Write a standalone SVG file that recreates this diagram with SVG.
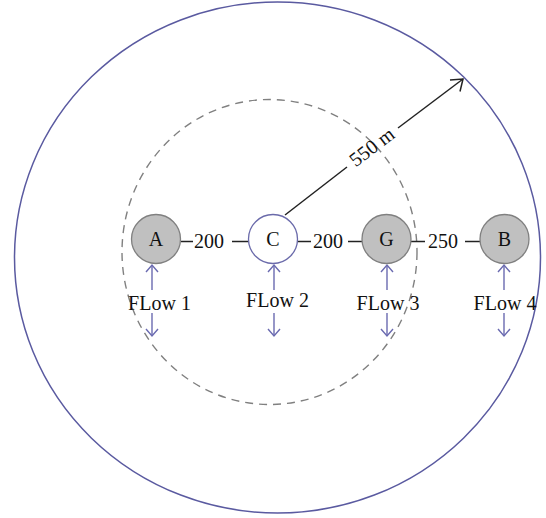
<svg xmlns="http://www.w3.org/2000/svg" width="546" height="518" viewBox="0 0 546 518">
<defs>
<style>
text{font-family:"Liberation Serif","Times New Roman",serif;font-size:20px;fill:#111}
.lab{text-anchor:middle}
.node{fill:#c0c0c0;stroke:#808080;stroke-width:1.3}
.nodec{fill:#fff;stroke:#6a6aaa;stroke-width:1.3}
.edge{stroke:#222;stroke-width:1.5;fill:none}
.flow{stroke:#6a6ab0;stroke-width:1.4;fill:none}
</style>
</defs>
<rect width="546" height="518" fill="#fff"/>
<ellipse cx="277.5" cy="257.5" rx="263" ry="255.5" fill="none" stroke="#5a5aa0" stroke-width="1.5"/>
<ellipse cx="269.5" cy="252" rx="147.5" ry="152.5" fill="none" stroke="#808080" stroke-width="1.4" stroke-dasharray="8,6"/>
<g id="connectors">
<line class="edge" x1="181" y1="241.5" x2="193" y2="241.5"/>
<text x="209" y="248" class="lab">200</text>
<line class="edge" x1="232" y1="241.5" x2="249" y2="241.5"/>
<line class="edge" x1="297" y1="241.5" x2="311" y2="241.5"/>
<text x="328" y="248" class="lab">200</text>
<line class="edge" x1="348" y1="241.5" x2="362" y2="241.5"/>
<line class="edge" x1="411" y1="241.5" x2="425" y2="241.5"/>
<text x="443" y="248" class="lab">250</text>
<line class="edge" x1="465" y1="241.5" x2="480" y2="241.5"/>
<line class="edge" x1="285" y1="215" x2="347" y2="167"/>
<line class="edge" x1="398" y1="128" x2="463" y2="79"/>
<polyline class="edge" points="450,80 463,79 460,91.5"/>
<text class="lab" transform="translate(372,147) rotate(-37.4)" x="0" y="6.5">550 m</text>
<g class="flow">
<line x1="152" y1="265" x2="152" y2="290"/><polyline points="146,272 152,265 158,272"/>
<line x1="152" y1="313" x2="152" y2="336"/><polyline points="146,329 152,336 158,329"/>
<line x1="274" y1="265" x2="274" y2="290"/><polyline points="268,272 274,265 280,272"/>
<line x1="274" y1="313" x2="274" y2="336"/><polyline points="268,329 274,336 280,329"/>
<line x1="387" y1="265" x2="387" y2="290"/><polyline points="381,272 387,265 393,272"/>
<line x1="387" y1="313" x2="387" y2="336"/><polyline points="381,329 387,336 393,329"/>
<line x1="504" y1="265" x2="504" y2="290"/><polyline points="498,272 504,265 510,272"/>
<line x1="504" y1="313" x2="504" y2="336"/><polyline points="498,329 504,336 510,329"/>
</g>
<text x="159.5" y="310" class="lab">FLow 1</text>
<text x="277.5" y="307" class="lab">FLow 2</text>
<text x="388" y="310" class="lab">FLow 3</text>
<text x="505" y="310" class="lab">FLow 4</text>
</g>
<g id="node-A"><circle class="node" cx="156" cy="239" r="24.5"/><text x="156" y="246" class="lab">A</text></g>
<g id="node-C"><circle class="nodec" cx="273" cy="239" r="24.5"/><text x="273" y="246" class="lab">C</text></g>
<g id="node-G"><circle class="node" cx="386.5" cy="239" r="24.5"/><text x="386.5" y="246" class="lab">G</text></g>
<g id="node-B"><circle class="node" cx="504.5" cy="239" r="24.5"/><text x="504.5" y="246" class="lab">B</text></g>
</svg>
